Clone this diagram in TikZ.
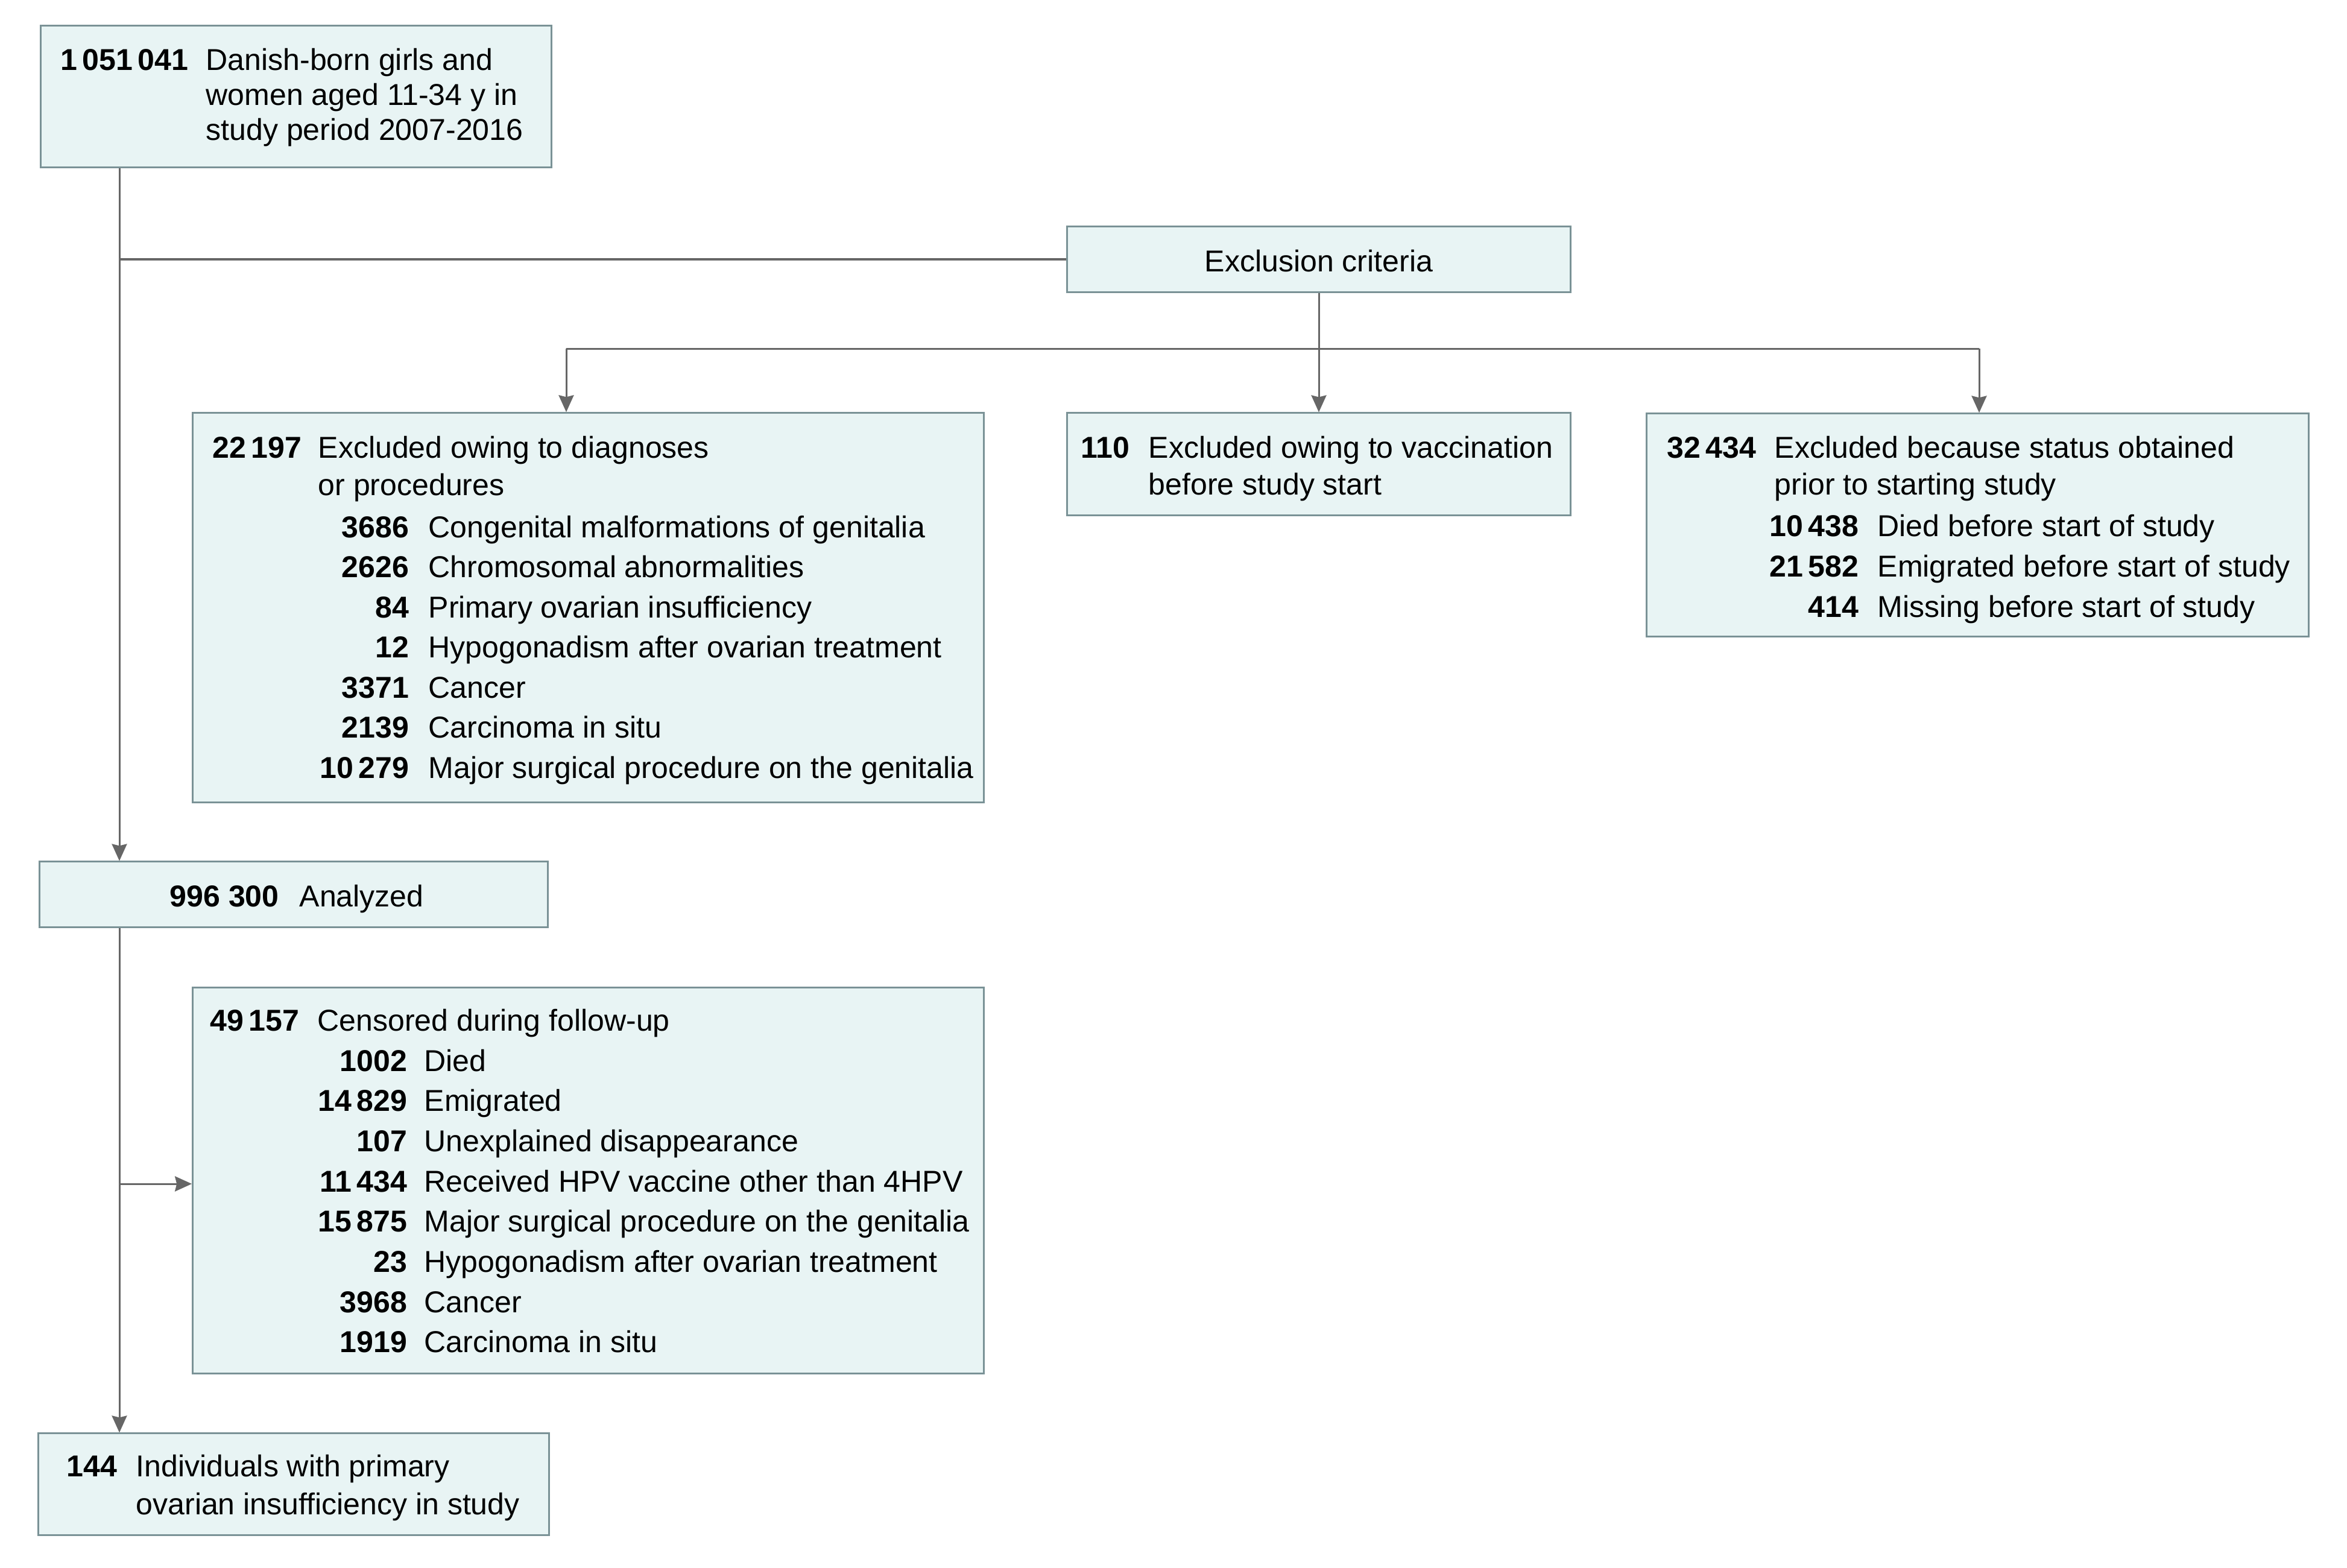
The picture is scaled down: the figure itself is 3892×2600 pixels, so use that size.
\documentclass[tikz,border=0pt]{standalone}
\usepackage{fontspec}
\setmainfont{Liberation Sans}
\usetikzlibrary{arrows.meta}
\definecolor{boxfill}{RGB}{232,244,244}
\definecolor{boxline}{RGB}{122,146,150}
\definecolor{connclr}{RGB}{102,102,102}
\tikzset{
  fbox/.style={draw=boxline, fill=boxfill, line width=0.03cm, inner sep=0, rectangle},
  tfont/.style={font=\fontsize{14.23pt}{17pt}\selectfont},
  numw/.style={tfont, font=\fontsize{14.23pt}{17pt}\selectfont\bfseries, anchor=base west, inner sep=0},
  nume/.style={tfont, font=\fontsize{14.23pt}{17pt}\selectfont\bfseries, anchor=base east, inner sep=0},
  txt/.style={tfont, anchor=base west, inner sep=0},
  conn/.style={draw=connclr, line width=0.03cm},
  arr/.style={conn, -{Stealth[length=0.28cm,width=0.25cm,inset=0.03cm]}}
}
\begin{document}
\begin{tikzpicture}[x=0.01cm,y=-0.01cm]
\useasboundingbox (0,0) rectangle (3892,2600);

% boxes
\node[fbox, minimum width=8.46cm, minimum height=2.34cm] (top) at (491,160) {};
\node[fbox, minimum width=8.34cm, minimum height=1.08cm] (excl) at (2187,430) {};
\node[fbox, minimum width=13.11cm, minimum height=6.45cm] (A) at (975.5,1007.5) {};
\node[fbox, minimum width=8.34cm, minimum height=1.69cm] (B) at (2187,769.5) {};
\node[fbox, minimum width=10.97cm, minimum height=3.69cm] (C) at (3279.5,870.5) {};
\node[fbox, minimum width=8.42cm, minimum height=1.08cm] (an) at (487,1483) {};
\node[fbox, minimum width=13.11cm, minimum height=6.39cm] (cen) at (975.5,1957.5) {};
\node[fbox, minimum width=8.46cm, minimum height=1.68cm] (fin) at (487,2461) {};

% connector coordinates
\coordinate (m1) at (198,430);
\coordinate (sp) at (2187,578);
\coordinate (sa) at (939,578);
\coordinate (sc) at (3282,578);
\coordinate (m2) at (198,1963);

% connectors
\draw[conn] (top.south -| m1) -- (m1) -- (m1 -| excl.west);
\draw[arr] (m1) -- (an.north -| m1);
\draw[conn] (excl.south) -- (sp);
\draw[conn] (sa) -- (sc);
\draw[arr] (sa) -- (sa |- A.north);
\draw[arr] (sp) -- (B.north);
\draw[arr] (sc) -- (sc |- C.north);
\draw[arr] (an.south -| m2) -- (fin.north -| m2);
\draw[arr] (m2) -- (cen.west |- m2);

% top box text
\node[numw] (t0) at (100,117) {1\,051\,041};
\node[txt] (t1) at (341,117) {Danish-born girls and};
\node[txt] (t2) at (341,175) {women aged 11-34 y in};
\node[txt] (t3) at (341,232) {study period 2007-2016};

% exclusion
\node[tfont, anchor=base, inner sep=0] (et) at (2187,451) {Exclusion criteria};

% box A
\node[numw] (a0) at (352,759) {22\,197};
\node[txt] (a1) at (527,759) {Excluded owing to diagnoses};
\node[txt] (a2) at (527,821) {or procedures};
\foreach \n/\t [count=\i from 0] in {3686/Congenital malformations of genitalia,
  2626/Chromosomal abnormalities,
  84/Primary ovarian insufficiency,
  12/Hypogonadism after ovarian treatment,
  3371/Cancer,
  2139/Carcinoma in situ,
  10\,279/Major surgical procedure on the genitalia}{
  \node[nume] (an\i) at (679,891+66.5*\i) {\n};
  \node[txt] (at\i) at (710,891+66.5*\i) {\t};
}

% box B
\node[numw] (b0) at (1792,759) {110};
\node[txt] (b1) at (1904,759) {Excluded owing to vaccination};
\node[txt] (b2) at (1904,820) {before study start};

% box C
\node[numw] (c0) at (2764,759) {32\,434};
\node[txt] (c1) at (2942,759) {Excluded because status obtained};
\node[txt] (c2) at (2942,820) {prior to starting study};
\foreach \n/\t [count=\i from 0] in {10\,438/Died before start of study,
  21\,582/Emigrated before start of study,
  414/Missing before start of study}{
  \node[nume] (cn\i) at (3083,889+67*\i) {\n};
  \node[txt] (ct\i) at (3113,889+67*\i) {\t};
}

% analyzed
\node[numw] (n0) at (281,1503) {996 300};
\node[txt] (n1) at (496,1503) {Analyzed};

% censored
\node[numw] (d0) at (348,1709) {49\,157};
\node[txt] (d1) at (526,1709) {Censored during follow-up};
\foreach \n/\t [count=\i from 0] in {1002/Died,
  14\,829/Emigrated,
  107/Unexplained disappearance,
  11\,434/Received HPV vaccine other than 4HPV,
  15\,875/Major surgical procedure on the genitalia,
  23/Hypogonadism after ovarian treatment,
  3968/Cancer,
  1919/Carcinoma in situ}{
  \node[nume] (dn\i) at (676,1776+66.7*\i) {\n};
  \node[txt] (dt\i) at (703,1776+66.7*\i) {\t};
}

% final
\node[numw] (f0) at (110,2448) {144};
\node[txt] (f1) at (225,2448) {Individuals with primary};
\node[txt] (f2) at (225,2511) {ovarian insufficiency in study};
\end{tikzpicture}
\end{document}
